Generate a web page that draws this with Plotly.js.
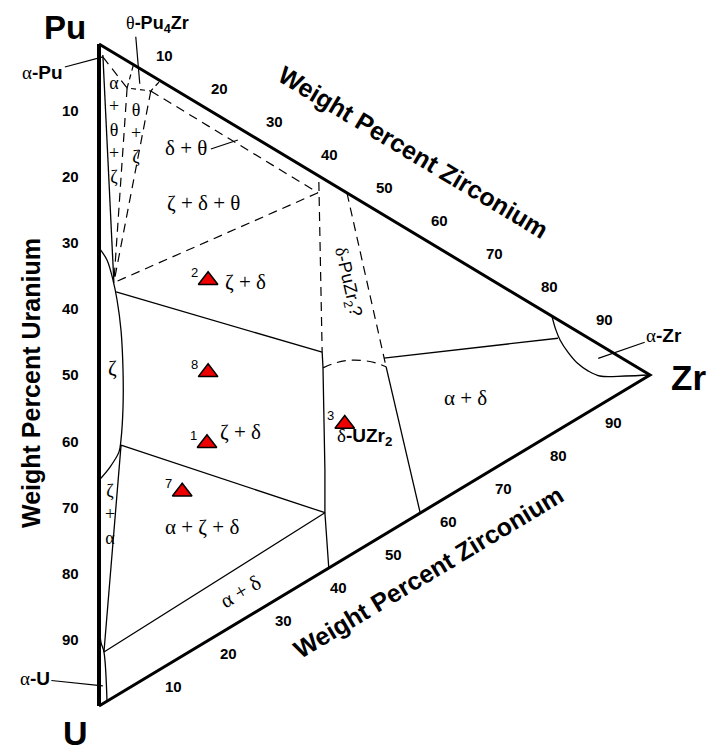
<!DOCTYPE html>
<html><head><meta charset="utf-8">
<script src="https://cdn.plot.ly/plotly-3.0.1.min.js"></script>
<style>html,body{margin:0;padding:0;background:#fff}</style>
</head><body>
<div id="chart" style="width:711px;height:751px"></div>
<script>
// All compositions in weight percent: U and Zr (Pu = balance)
const ticks = [10, 20, 30, 40, 50, 60, 70, 80, 90];

// triangle outline
const edgeLeftU = [0, 100];   const edgeLeftZr = [0, 0];
const edgeRestU = [100, 0, 0]; const edgeRestZr = [0, 100, 0];

// solid phase boundaries
const zetaFieldU  = [30.8, 31.9, 34.4, 37.0, 41.2, 47.1, 52.7, 57.8, 59.8, 62.9, 65.9];
const zetaFieldZr = [0.0, 1.45, 2.54, 3.27, 3.99, 4.36, 4.36, 3.99, 3.63, 2.0, 0.0];
const alphaZrFieldU  = [0, 1.7, 2.9, 4.0, 4.8, 5.0, 4.7, 2.4, 0];
const alphaZrFieldZr = [82.2, 82.9, 83.7, 85.1, 86.8, 88.75, 90.9, 95.5, 100];
const alphaUFieldU  = [87.6, 90.2, 91.4, 98.5];
const alphaUFieldZr = [0, 0.36, 0.9, 1.45];
const alphaPuZetaU = [1.3, 34.7];  const alphaPuZetaZr = [0.7, 2.7];
const tieZetaDeltaU = [35.9, 26.3]; const tieZetaDeltaZr = [3.1, 40.5];
const deltaUZr2LeftU  = [26.3, 28.5, 43.8, 50.3, 58.3];
const deltaUZr2LeftZr = [40.5, 40.65, 41.0, 41.0, 41.7];
const deltaUZr2RightU = [22.7, 41.7]; const deltaUZr2RightZr = [52.1, 58.3];
const tieDeltaAlphaZrU = [21.6, 2.8]; const tieDeltaAlphaZrZr = [51.7, 83.3];
const alphaZetaDeltaU  = [58.6, 50.3, 91.4, 58.6];
const alphaZetaDeltaZr = [4.0, 41.0, 0.9, 4.0];

// dashed phase boundaries
const alphaThetaU = [1.6, 4.1];       const alphaThetaZr = [0.7, 5.1];
const thetaZetaLeftU = [4.1, 34.7];   const thetaZetaLeftZr = [5.1, 2.7];
const thetaFieldU = [0.2, 4.1, 2.4, 0]; const thetaFieldZr = [6.2, 5.1, 9.4, 11.1];
const thetaZetaRightU = [2.4, 34.7];  const thetaZetaRightZr = [9.4, 2.7];
const deltaThetaU = [2.4, 2.6];       const deltaThetaZr = [9.4, 39.75];
const zetaDeltaThetaU = [2.6, 34.7];  const zetaDeltaThetaZr = [39.75, 2.7];
const deltaPuZr2LeftU = [0.9, 26.3];  const deltaPuZr2LeftZr = [39.9, 40.5];
const deltaPuZr2RightU = [0, 22.7];   const deltaPuZr2RightZr = [45.0, 52.1];
const deltaPuZr2BaseU  = [28.6, 26.8, 25.0, 23.7, 23.0, 22.7];
const deltaPuZr2BaseZr = [40.65, 42.8, 45.55, 48.3, 50.45, 52.1];

// samples
const sampleIds = ['1', '2', '3', '7', '8'];
const sampleU   = [50.5, 25.8, 35.1, 60.1, 39.7];
const sampleZr  = [19.6, 19.8, 44.6, 15.1, 19.8];

// ternary -> plane: x = Zr, y = U + Zr/2
const tx = (u, z) => z;
const ty = (u, z) => u + z / 2;

function path(U, Zr, w, dash, shape) {
  return {type: 'scatter', mode: 'lines', hoverinfo: 'skip', showlegend: false,
    x: Zr.map((z, i) => tx(U[i], z)), y: Zr.map((z, i) => ty(U[i], z)),
    line: {color: '#000', width: w, dash: dash || 'solid', shape: shape || 'linear', smoothing: 1}};
}
const D = '9px,6px';
const traces = [
  path(edgeRestU, edgeRestZr, 3),
  path(edgeLeftU, edgeLeftZr, 4),
  path(zetaFieldU, zetaFieldZr, 1.3, null, 'spline'),
  path(alphaZrFieldU, alphaZrFieldZr, 1.3, null, 'spline'),
  path(alphaUFieldU, alphaUFieldZr, 1.3, null, 'spline'),
  path(alphaPuZetaU, alphaPuZetaZr, 1.3),
  path(tieZetaDeltaU, tieZetaDeltaZr, 1.3),
  path(deltaUZr2LeftU, deltaUZr2LeftZr, 1.3),
  path(deltaUZr2RightU, deltaUZr2RightZr, 1.3),
  path(tieDeltaAlphaZrU, tieDeltaAlphaZrZr, 1.3),
  path(alphaZetaDeltaU, alphaZetaDeltaZr, 1.3),
  path(alphaThetaU, alphaThetaZr, 1.2, D),
  path(thetaZetaLeftU, thetaZetaLeftZr, 1.2, D),
  path(thetaFieldU, thetaFieldZr, 1.2, '5px,4px'),
  path(thetaZetaRightU, thetaZetaRightZr, 1.2, D),
  path(deltaThetaU, deltaThetaZr, 1.2, D),
  path(zetaDeltaThetaU, zetaDeltaThetaZr, 1.2, D),
  path(deltaPuZr2LeftU, deltaPuZr2LeftZr, 1.2, D),
  path(deltaPuZr2RightU, deltaPuZr2RightZr, 1.2, D),
  path(deltaPuZr2BaseU, deltaPuZr2BaseZr, 1.2, D, 'spline'),
  {type: 'scatter', mode: 'markers', hoverinfo: 'skip', showlegend: false,
   x: sampleZr.map((z, i) => tx(sampleU[i], z)), y: sampleZr.map((z, i) => ty(sampleU[i], z)),
   marker: {symbol: 'triangle-up', size: 17, color: '#ee0000', line: {color: '#000', width: 1.5}}}
];

const SANS = 'Liberation Sans, Arial, sans-serif';
const SERIF = 'Liberation Serif, Times New Roman, serif';
const G = s => '<span style="font-family:Liberation Serif">' + s + '</span>';
function ann(text, u, z, o) {
  o = o || {};
  const f = Object.assign({family: SERIF, size: 21, color: '#000'}, o.font || {});
  return Object.assign({x: tx(u, z), y: ty(u, z), xref: 'x', yref: 'y', text: text, showarrow: false}, o, {font: f});
}
function leader(text, u, z, ax, ay) {
  return {x: tx(u, z), y: ty(u, z), xref: 'x', yref: 'y', text: text, showarrow: true,
    arrowhead: 0, arrowwidth: 1.2, arrowcolor: '#000', standoff: 0, ax: ax, ay: ay,
    font: {family: SANS, size: 19, color: '#000'}};
}
// leader line without text: anchored at a composition, tail offset in pixels
function tick(u, z, dx, dy) {
  return {type: 'line', xref: 'x', yref: 'y', xsizemode: 'pixel', ysizemode: 'pixel',
    xanchor: tx(u, z), yanchor: ty(u, z), x0: 0, y0: 0, x1: dx, y1: dy,
    line: {color: '#000', width: 1.2}};
}
const anns = [];
const NUM = {family: SANS, size: 15, color: '#000'};
ticks.forEach(v => {
  anns.push(ann('<b>' + v + '</b>', v, 0, {xshift: -29, font: NUM}));
  anns.push(ann('<b>' + v + '</b>', 0, v, {xshift: 10, yshift: 22, font: NUM}));
  anns.push(ann('<b>' + v + '</b>', 100 - v, v, {xshift: 19, yshift: -14, font: NUM}));
});
// vertices
anns.push(ann('<b>Pu</b>', 0, 0, {xshift: -34, yshift: 17, font: {family: SANS, size: 33}}));
anns.push(ann('<b>U</b>', 100, 0, {xshift: -24, yshift: -27, font: {family: SANS, size: 34}}));
anns.push(ann('<b>Zr</b>', 0, 100, {xshift: 38, yshift: -3, font: {family: SANS, size: 35}}));
// axis titles
const TT = {family: SANS, size: 25};
anns.push(ann('<b>Weight Percent Uranium</b>', 50, 0, {xshift: -68, yshift: -8, textangle: -90, font: TT}));
anns.push(ann('<b>Weight Percent Zirconium</b>', 0, 50, {xshift: 39, yshift: 58, textangle: 31, font: TT}));
anns.push(ann('<b>Weight Percent Zirconium</b>', 50, 50, {xshift: 54, yshift: -32, textangle: -31, font: TT}));
// phase fields
anns.push(ann('δ + θ', 7.8, 15.8));
anns.push(ann('ζ + δ + θ', 14.6, 18.9));
anns.push(ann('ζ + δ', 22.7, 26.5));
anns.push(ann('ζ', 47.7, 2.5));
anns.push(ann('ζ + δ', 45.8, 25.6));
anns.push(ann('α + ζ + δ', 63.6, 18.7));
anns.push(ann('α + δ', 70.0, 25.6, {textangle: -31}));
anns.push(ann('α + δ', 20.2, 66.6));
anns.push(ann('α<br>+<br>θ<br>+<br>ζ', 11.6, 2.7, {font: {size: 18}}));
anns.push(ann('θ<br>+<br>ζ', 10.1, 6.7, {font: {size: 18}}));
anns.push(ann('ζ<br>+<br>α', 70.0, 2.0, {font: {size: 18}}));
anns.push(ann(G('δ') + '<b>-UZr<sub>2</sub></b>', 35.3, 48.1, {font: {family: SANS, size: 19}}));
anns.push(ann(G('δ') + '-PuZr<sub>2</sub>?', 13.6, 45.0, {textangle: 77, font: {family: SANS, size: 18}}));
anns.push(ann(G('θ') + '<b>-Pu<sub>4</sub>Zr</b>', 0, 0, {xshift: 58, yshift: 20, font: {family: SANS, size: 18}}));
// single-phase labels with leaders
anns.push(leader(G('α') + '<b>-Pu</b>', 1.6, 0.7, -60, 16));
anns.push(leader(G('α') + '<b>-U</b>', 96.6, 0.7, -68, -7));
anns.push(leader(G('α') + '<b>-Zr</b>', 2.2, 90.6, 66, -23));
// sample numbers
sampleIds.forEach((id, i) => anns.push(ann(id, sampleU[i], sampleZr[i], {xshift: -14, yshift: 8, font: {family: SANS, size: 13}})));

const layout = {
  width: 711, height: 751, margin: {l: 0, r: 0, t: 0, b: 0},
  paper_bgcolor: '#fff', plot_bgcolor: '#fff', showlegend: false,
  xaxis: {range: [-17.967, 111.07], visible: false, fixedrange: true},
  yaxis: {range: [106.80, -6.647], visible: false, fixedrange: true},
  annotations: anns,
  shapes: [tick(2.3, 7.4, -4, 47), tick(1.9, 25.2, -27, -9)]
};
Plotly.newPlot('chart', traces, layout, {displayModeBar: false, staticPlot: true});
</script>
</body></html>
